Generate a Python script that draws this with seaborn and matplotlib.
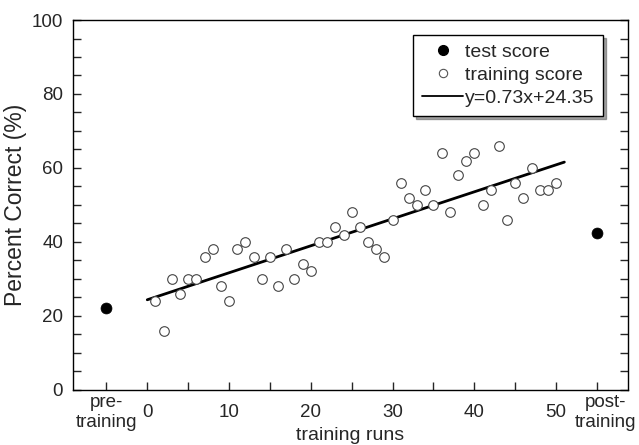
import matplotlib
matplotlib.use("Agg")
import matplotlib.pyplot as plt
import matplotlib.transforms as mtransforms
from matplotlib.lines import Line2D
import seaborn as sns

# --- data ---
runs = list(range(1, 51))
train_score = [24, 16, 30, 26, 30, 30, 36, 38, 28, 24,
               38, 40, 36, 30, 36, 28, 38, 30, 34, 32,
               40, 40, 44, 42, 48, 44, 40, 38, 36, 46,
               56, 52, 50, 54, 50, 64, 48, 58, 62, 64,
               50, 54, 66, 46, 56, 52, 60, 54, 54, 56]
test_x = [-5, 55]
test_score = [22, 42.5]
fit_slope = 0.73
fit_icpt = 24.35
fit_x = [0, 51]
fit_y = [fit_slope * v + fit_icpt for v in fit_x]

x_ticks = [-5, 0, 5, 10, 15, 20, 25, 30, 35, 40, 45, 50, 55]
x_labels = ["pre-\ntraining", "0", "", "10", "", "20", "", "30", "", "40", "", "50", "post-\ntraining"]
y_ticks = list(range(0, 101, 5))
y_labels = [str(v) if v % 20 == 0 else "" for v in y_ticks]

sns.set_theme(style="ticks")
plt.rcParams["font.family"] = ["Liberation Sans", "DejaVu Sans"]

fig = plt.figure(figsize=(6.39, 4.45), dpi=100)
ax = fig.add_axes([0.114, 0.124, 0.869, 0.831])

sns.lineplot(x=fit_x, y=fit_y, ax=ax, color="black", linewidth=2.0, zorder=2)
sns.scatterplot(x=runs, y=train_score, ax=ax, s=48, color="white",
                edgecolor="#444444", linewidth=0.8, zorder=3)
sns.scatterplot(x=test_x, y=test_score, ax=ax, s=62, color="black",
                edgecolor="black", linewidth=0.5, zorder=3)

ax.set_xlim(-9.1, 58.8)
ax.set_ylim(0, 100)
ax.set_xticks(x_ticks, x_labels, va="center")
ax.set_yticks(y_ticks, y_labels)
ax.tick_params(axis="x", direction="in", length=6, width=1, labelsize=13.5,
               pad=16.5, bottom=True, top=False)
ax.tick_params(axis="y", direction="in", length=6, width=1, labelsize=13.5,
               pad=7, left=True, right=True)
for sp in ax.spines.values():
    sp.set_visible(True)
    sp.set_color("black")
    sp.set_linewidth(1.0)

# post-training label sits a bit to the right of its tick
post_lbl = ax.get_xticklabels()[-1]
post_lbl.set_transform(post_lbl.get_transform() +
                       mtransforms.ScaledTranslation(8 / 100, 0, fig.dpi_scale_trans))

ax.set_xlabel("training runs", fontsize=14)
ax.xaxis.set_label_coords(0.5, -0.100)
ax.set_ylabel("Percent Correct (%)", fontsize=16.5)
ax.yaxis.set_label_coords(-0.082, 0.5)

handles = [
    Line2D([], [], marker="o", ls="none", color="black", markersize=7),
    Line2D([], [], marker="o", ls="none", markerfacecolor="white",
           markeredgecolor="#555555", markersize=6, markeredgewidth=0.8),
    Line2D([], [], color="black", linewidth=1.3),
]
leg = ax.legend(handles, ["test score", "training score", "y=0.73x+24.35"],
                loc="upper right", bbox_to_anchor=(0.955, 0.96), fontsize=14,
                frameon=True, fancybox=False, shadow=True, framealpha=1,
                edgecolor="black", labelspacing=0.28, handlelength=2.1,
                handletextpad=0.1, borderpad=0.45, borderaxespad=0)
leg.get_frame().set_linewidth(1.0)

fig.savefig("out.png", dpi=100)
